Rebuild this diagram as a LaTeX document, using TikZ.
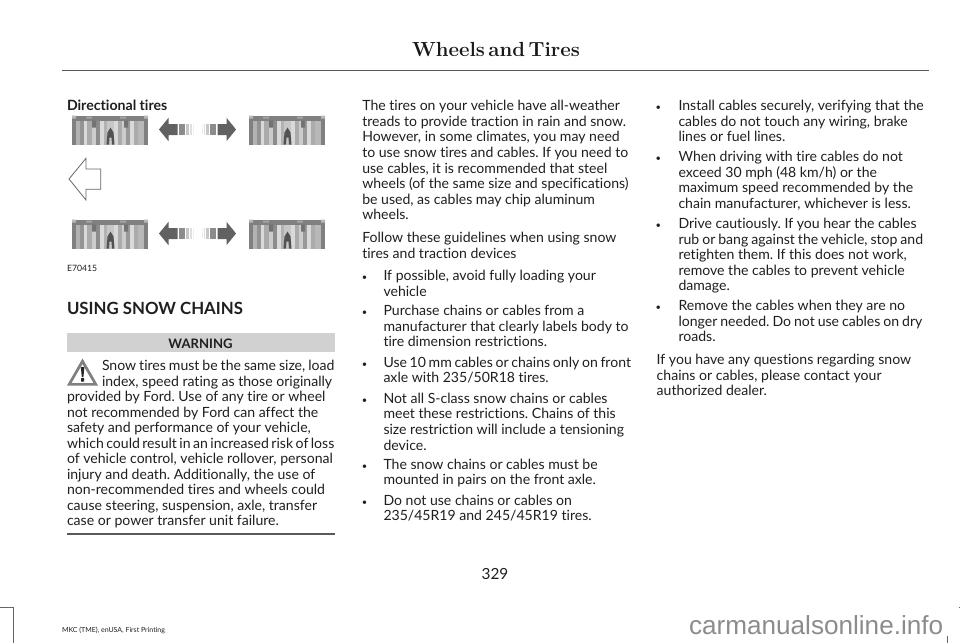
\documentclass[tikz,border=0pt]{standalone}
\usepackage{fontspec}
\setmainfont{Lato}[Ligatures=NoCommon]
\newfontfamily\titlefont{Latin Modern Roman}
\newfontfamily\wmfont{Liberation Sans}
\definecolor{txt}{gray}{0.12}
\newcommand{\tight}[2][.175em]{{\spaceskip=#1\relax #2}}
\frenchspacing
\tikzset{
 x=0.75pt,y=-0.75pt,
 tl/.style={anchor=base west,inner sep=0pt,outer sep=0pt,text=txt,font=\fontsize{10.55}{12}\selectfont},
 hd/.style={tl,font=\fontsize{10.6}{12}\selectfont\bfseries},
 smalltx/.style={tl,font=\fontsize{6.5}{8}\selectfont},
 foottx/.style={tl,font=\fontsize{5.25}{7}\selectfont},
 bul/.style={anchor=base,inner sep=0pt,outer sep=0pt,text=txt,font=\fontsize{7}{8}\selectfont},
 cropmark/.style={draw=black!60,line width=0.7pt},
 tire/.pic={
  \foreach \a/\b/\g in {0/4/50,4/4/30,8/4/42,12/3/15,15/5/33,20/4/20,24/4/45,28/4/15,32/3/30,35/7/22,42/4/15,46/4/33,50/4/20,54/4/40,58/4/15,62/4/33,66/6/28,72/4/50}{\fill[black!\g] (\a,0) rectangle (\a+\b,29);}
  \fill[black!50] (4,0) rectangle (72,5);
  \fill[black!28] (0,0) rectangle (4,3) (72,0) rectangle (76,3);
  \fill[black!35] (14,1) rectangle (20,3) (48,1) rectangle (54,3);
  \fill[black!55] (20,5) rectangle (24,12) (52,5) rectangle (56,12);
  \fill[black!68] (35.5,17) -- (38.5,12) -- (41.5,17) -- (42.5,29) -- (40,29) -- (39.5,22) -- (37.5,22) -- (37,29) -- (34.5,29) -- cycle;
 },
 dirarrow/.pic={
  \fill[black!62] (0,0) -- (9.5,-11.7) -- (9.5,-5.5) -- (18.5,-5.5) -- (18.5,5.5) -- (9.5,5.5) -- (9.5,11.7) -- cycle;
  \fill[black!45] (20,-5.5) rectangle (26,5.5);
  \fill[black!22] (27,-5.5) rectangle (30,5.5);
  \fill[black!12] (31,-5.5) rectangle (32.5,5.5);
  \fill[black!6] (33.5,-5.5) rectangle (34.5,5.5);
 },
}
\newcommand{\tx}[4][tl]{\node[#1] at (#2,#3) {#4};}
\newcommand{\bu}[2]{\node[bul] at (#1,#2) {•};}
\begin{document}
\begin{tikzpicture}
\useasboundingbox (0,0) rectangle (960,643);
\fill[white] (0,0) rectangle (960,643);
% header
\node[anchor=base,inner sep=0pt,text=black!90,font=\titlefont\fontsize{15.3}{18}\selectfont\bfseries] (title) at (496,56.7) {\spaceskip=.17em\relax Wheels and Tires};
\draw[line width=0.8pt,black!65] (62,70.5) -- (929,70.5);
% graphic
\tx[hd]{67}{110.7}{Directional tires}
\foreach \y in {115.5,219.5}{
 \pic at (72,\y) {tire};
 \pic at (249,\y) {tire};
 \pic at (159,\y+14) {dirarrow};
 \pic[xscale=-1] at (236,\y+14) {dirarrow};
}
\draw[line width=0.6pt,black!60,fill=white] (69,179) -- (86,158.3) -- (86,169) -- (100.7,169) -- (100.7,189.3) -- (86,189.3) -- (86,200) -- cycle;
\tx[smalltx]{67}{271.7}{E70415}
% section
\tx[hd,font=\fontsize{12.6}{14}\selectfont\bfseries]{67}{314}{USING SNOW CHAINS}
\fill[black!18] (67,333.3) rectangle (335,351.7);
\node[anchor=base,inner sep=0pt,text=txt,font=\fontsize{9.8}{12}\selectfont\bfseries] (warn) at (200.5,348.3) {WARNING};
% warning icon
\fill[black!50,even odd rule] (82.5,358.5) -- (67,385.5) -- (98,385.5) -- cycle (82.5,364) -- (71.5,383) -- (93.5,383) -- cycle;
\fill[black!85] (80.8,367) -- (84.4,367) -- (83.4,377) -- (81.8,377) -- cycle (81.2,378) rectangle (84,381.5);
\tx{102}{370.3}{\tight[.21em]{Snow tires must be the same size, load}}
\tx{102}{386}{index, speed rating as those originally}
\tx{67}{401.3}{provided by Ford. Use of any tire or wheel}
\tx{67}{417}{not recommended by Ford can affect the}
\tx{67}{432.3}{safety and performance of your vehicle,}
\tx{67}{448}{\tight{which could result in an increased risk of loss}}
\tx{67}{463.7}{of vehicle control, vehicle rollover, personal}
\tx{67}{479}{injury and death. Additionally, the use of}
\tx{67}{494.7}{non-recommended tires and wheels could}
\tx{67}{510}{cause steering, suspension, axle, transfer}
\tx{67}{525.7}{case or power transfer unit failure.}
\draw[line width=0.8pt,black!65] (67,534) -- (335,534);
% column 2
\tx{362.3}{110.6}{The tires on your vehicle have all-weather}
\tx{362.3}{126.2}{treads to provide traction in rain and snow.}
\tx{362.3}{141.8}{However, in some climates, you may need}
\tx{362.3}{157.4}{to use snow tires and cables. If you need to}
\tx{362.3}{173}{use cables, it is recommended that steel}
\tx{362.3}{188.6}{wheels (of the same size and specifications)}
\tx{362.3}{204.2}{be used, as cables may chip aluminum}
\tx{362.3}{219.8}{wheels.}
\tx{362.3}{242.7}{Follow these guidelines when using snow}
\tx{362.3}{258.2}{tires and traction devices}
\bu{364.5}{280.7}\tx{383.5}{280.7}{If possible, avoid fully loading your}
\tx{383.5}{296.3}{vehicle}
\bu{364.5}{315.7}\tx{383.5}{315.7}{Purchase chains or cables from a}
\tx{383.5}{331.3}{manufacturer that clearly labels body to}
\tx{383.5}{346.9}{tire dimension restrictions.}
\bu{364.5}{367.3}\tx{383.5}{367.3}{\tight[.19em]{Use 10 mm cables or chains only on front}}
\tx{383.5}{382.9}{axle with 235/50R18 tires.}
\bu{364.5}{403.3}\tx{383.5}{403.3}{Not all S-class snow chains or cables}
\tx{383.5}{418.9}{meet these restrictions. Chains of this}
\tx{383.5}{434.5}{size restriction will include a tensioning}
\tx{383.5}{450}{device.}
\bu{364.5}{469.3}\tx{383.5}{469.3}{The snow chains or cables must be}
\tx{383.5}{484.9}{mounted in pairs on the front axle.}
\bu{364.5}{505}\tx{383.5}{505}{Do not use chains or cables on}
\tx{383.5}{520.6}{235/45R19 and 245/45R19 tires.}
% column 3
\bu{658.3}{110.6}\tx{678.5}{110.6}{Install cables securely, verifying that the}
\tx{678.5}{126.2}{cables do not touch any wiring, brake}
\tx{678.5}{141.8}{lines or fuel lines.}
\bu{658.3}{161.7}\tx{678.5}{161.7}{When driving with tire cables do not}
\tx{678.5}{177.3}{exceed 30 mph (48 km/h) or the}
\tx{678.5}{192.9}{maximum speed recommended by the}
\tx{678.5}{208.5}{chain manufacturer, whichever is less.}
\bu{658.3}{228.4}\tx{678.5}{228.4}{Drive cautiously. If you hear the cables}
\tx{678.5}{244}{\tight[.21em]{rub or bang against the vehicle, stop and}}
\tx{678.5}{259.6}{retighten them. If this does not work,}
\tx{678.5}{275.2}{remove the cables to prevent vehicle}
\tx{678.5}{290.8}{damage.}
\bu{658.3}{310.7}\tx{678.5}{310.7}{Remove the cables when they are no}
\tx{678.5}{326.2}{\tight[.21em]{longer needed. Do not use cables on dry}}
\tx{678.5}{341.7}{roads.}
\tx{656.7}{364.3}{If you have any questions regarding snow}
\tx{656.7}{380}{chains or cables, please contact your}
\tx{656.7}{395.5}{authorized dealer.}
% footer
\node[anchor=base,inner sep=0pt,text=txt,font=\fontsize{11.5}{12}\selectfont] (pg) at (495,579) {329};
\tx[foottx]{62}{632.7}{MKC (TME), enUSA, First Printing}
\draw[cropmark] (0,607) -- (13,607) -- (13,643);
\draw[cropmark] (947,636) -- (947,643);
\draw[cropmark] (958.5,607) -- (960,607);
\node[anchor=base east,inner sep=0pt,text=black!45,font=\wmfont\fontsize{19.6}{22}\selectfont] (wm) at (943.5,634) {carmanualsonline.info};
\end{tikzpicture}
\end{document}
